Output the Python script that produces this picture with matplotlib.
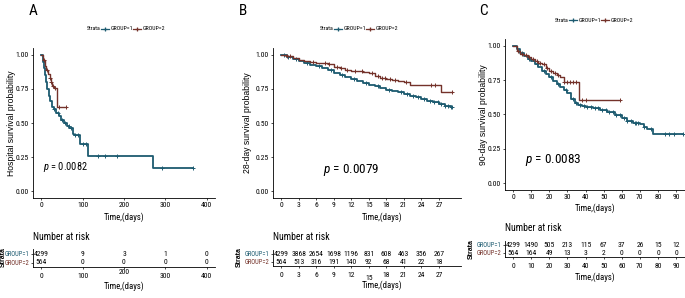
import numpy as np
import matplotlib
matplotlib.use('Agg')
import matplotlib.pyplot as plt
from matplotlib import font_manager as fm
from matplotlib.lines import Line2D
from matplotlib.transforms import ScaledTranslation

# narrow font: take whatever condensed face is installed
names = {f.name for f in fm.fontManager.ttflist}
narrow = next((c for c in ['Liberation Sans Narrow', 'Roboto Condensed', 'Arial Narrow']
               if c in names), None)
if narrow:
    plt.rcParams['font.family'] = [narrow, 'DejaVu Sans']
    it_font = narrow + ':italic'
elif any(f.name == 'DejaVu Sans' and f.stretch == 'condensed' for f in fm.fontManager.ttflist):
    plt.rcParams['font.family'] = ['DejaVu Sans']
    plt.rcParams['font.stretch'] = 'condensed'
    it_font = 'DejaVu Sans:italic:condensed'
else:
    plt.rcParams['font.family'] = ['Liberation Sans', 'DejaVu Sans']
    it_font = 'Liberation Sans:italic'
plt.rcParams['mathtext.fontset'] = 'custom'
plt.rcParams['mathtext.it'] = it_font

TEAL = '#1d5b70'
BROWN = '#74322a'

# ---- panel A: hospital survival
a_t1 = [0, 3, 6, 8, 11, 14, 18, 22, 26, 30, 36, 42, 48, 55, 62, 68, 76, 80, 94, 114, 270, 367]
a_s1 = [1.0, 0.95, 0.9, 0.855, 0.8, 0.75, 0.70, 0.66, 0.62, 0.60, 0.575, 0.55, 0.525, 0.50, 0.48, 0.46, 0.42, 0.412, 0.345, 0.257, 0.171, 0.171]
a_c1 = [30, 40, 50, 58, 66, 72, 82, 88, 100, 108, 138, 154, 182, 293, 367]
a_t2 = [0, 4, 8, 12, 16, 20, 24, 27, 30, 38, 60]
a_s2 = [1.0, 0.96, 0.92, 0.89, 0.86, 0.83, 0.80, 0.775, 0.755, 0.62, 0.62]
a_c2 = [6, 14, 20, 24, 28, 34, 44, 60]
a_ticks = [0, 100, 200, 300, 400]
a_risk1 = [4299, 9, 3, 1, 0]
a_risk2 = [564, 0, 0, 0, 0]

# ---- panel B: 28-day survival
b_t1 = [0, 1, 2, 3, 4, 5, 6, 7, 8, 9, 10, 11, 12, 13, 14, 15, 16, 17, 18, 19, 20,
        21, 22, 23, 24, 25, 26, 27, 28, 29, 29.3]
b_s1 = [1.0, 0.985, 0.968, 0.952, 0.94, 0.928, 0.915, 0.90, 0.888, 0.865, 0.852, 0.838,
        0.824, 0.81, 0.795, 0.781, 0.77, 0.757, 0.745, 0.733, 0.724, 0.713, 0.70, 0.69,
        0.678, 0.665, 0.652, 0.64, 0.628, 0.62, 0.62]
b_c1 = [0.5, 1.2, 2.5, 4.5, 6.5, 8.5, 10.5, 12.5, 14.5, 16.5, 18.5, 20.5, 21.5, 22.5,
        23.5, 24.5, 25.5, 26.2, 26.8, 27.4, 28, 28.5, 29, 29.3]
b_t2 = [0, 1, 2, 3, 4, 5, 6, 7, 8, 9, 10, 11, 12, 13, 14, 15, 16, 17, 18, 19, 20, 21,
        22, 27.3, 29.3]
b_s2 = [1.0, 0.995, 0.975, 0.965, 0.957, 0.95, 0.942, 0.937, 0.93, 0.91, 0.90, 0.892,
        0.885, 0.88, 0.872, 0.866, 0.845, 0.83, 0.825, 0.818, 0.806, 0.80, 0.78, 0.73, 0.73]
b_c2 = [1.0, 1.5, 5.5, 7.5, 8.2, 9.5, 10.3, 11.2, 12.6, 13.8, 15.6, 16.5, 17.2, 17.8,
        18.6, 19.4, 21.4, 25.6, 26.3, 29.2]
b_ticks = [0, 3, 6, 9, 12, 15, 18, 21, 24, 27]
b_risk1 = [4299, 3868, 2654, 1698, 1196, 831, 608, 463, 356, 267]
b_risk2 = [564, 513, 316, 191, 140, 92, 68, 41, 22, 18]

# ---- panel C: 90-day survival
c_t1 = [0, 2, 4, 6, 8, 10, 12, 14, 16, 18, 20, 22, 24, 26, 28, 30, 32, 34, 36, 38, 40,
        44, 48, 52, 56, 60, 63, 66, 70, 72, 74, 77, 93.5]
c_s1 = [1.0, 0.975, 0.95, 0.925, 0.905, 0.89, 0.87, 0.845, 0.82, 0.795, 0.77, 0.745,
        0.72, 0.70, 0.68, 0.655, 0.615, 0.585, 0.57, 0.562, 0.555, 0.545, 0.535, 0.52,
        0.495, 0.475, 0.45, 0.44, 0.43, 0.41, 0.395, 0.355, 0.355]
c_c1 = [5, 9, 13, 17, 21, 25, 29, 33, 35, 37, 39, 41, 43, 45, 47, 49, 51, 53, 55, 57,
        59, 61, 63, 65, 67, 68, 69, 72, 76, 84, 86, 89, 93.5]
c_t2 = [0, 2, 4, 6, 8, 10, 12, 14, 16, 18, 20, 22, 24, 26, 28, 36.5, 59]
c_s2 = [1.0, 0.96, 0.94, 0.93, 0.92, 0.905, 0.89, 0.875, 0.865, 0.84, 0.815, 0.80,
        0.79, 0.77, 0.735, 0.608, 0.608]
c_c2 = [3, 5, 7, 9, 11, 13, 15, 17, 19, 21, 23, 25, 28, 30, 31.5, 33, 34.5, 38, 40, 59]
c_ticks = [0, 10, 20, 30, 40, 50, 60, 70, 80, 90]
c_risk1 = [4299, 1490, 505, 213, 115, 67, 37, 26, 15, 12]
c_risk2 = [564, 164, 49, 13, 3, 2, 0, 0, 0, 0]

W, H = 685, 298
fig = plt.figure(figsize=(W / 100, H / 100), dpi=100)

TICK = 5.5
NUM = 5.5


def box(l, t, r, b):
    return fig.add_axes([l / W, 1 - b / H, (r - l) / W, (b - t) / H])


def ftext(x, y, s, **kw):
    fig.text(x / W, 1 - y / H, s, **kw)


def step_at(t, s, c):
    idx = np.searchsorted(t, c, side='right') - 1
    return np.asarray(s)[idx]


def style(ax):
    for side in ['top', 'right']:
        ax.spines[side].set_visible(False)
    for side in ['left', 'bottom']:
        ax.spines[side].set_linewidth(0.6)
    ax.tick_params(length=1.6, width=0.5, pad=1.2, labelsize=TICK)


def km_panel(l, t, r, b, xlim, ticks, curves, pval, ppos, psize):
    ax = box(l, t, r, b)
    style(ax)
    for tt, ss, cc, col, lw in curves:
        ax.step(tt, ss, where='post', color=col, lw=lw)
        ax.plot(cc, step_at(tt, ss, cc), ls='none', marker='+', ms=3.2, mew=0.7, color=col)
    ax.set_xlim(*xlim)
    ax.set_ylim(-0.05, 1.05)
    ax.set_xticks(ticks)
    ax.set_yticks([0, 0.25, 0.5, 0.75, 1.0])
    ax.set_yticklabels(['0.00', '0.25', '0.50', '0.75', '1.00'])
    ftext(ppos[0], ppos[1], '$\\it{p}$ = ' + pval, fontsize=psize, va='center')
    return ax


def risk_table(l, t, r, b, xlim, ticks, r1, r2, shift=None):
    ax = box(l, t, r, b)
    style(ax)
    ax.set_xlim(*xlim)
    ax.set_ylim(2.5, 0.5)
    ax.set_xticks(ticks)
    ax.set_yticks([1, 2])
    ax.set_yticklabels(['GROUP=1', 'GROUP=2'])
    for lbl, col in zip(ax.get_yticklabels(), [TEAL, BROWN]):
        lbl.set_color(col)
    ax.tick_params(axis='y', labelsize=4.7, pad=0.8)
    ax.tick_params(axis='x', pad=3)
    for x, n1, n2 in zip(ticks, r1, r2):
        ax.text(x, 1, str(n1), ha='center', va='center', fontsize=NUM)
        ax.text(x, 2, str(n2), ha='center', va='center', fontsize=NUM)
    if shift is not None:
        i, dy = shift
        lbl = ax.get_xticklabels()[i]
        lbl.set_transform(lbl.get_transform() + ScaledTranslation(0, dy / 72, fig.dpi_scale_trans))
    return ax


def legend(x0, y):
    ftext(x0, y, 'Strata', fontsize=4.2, va='center')
    for dx, col, name in [(14, TEAL, 'GROUP=1'), (46, BROWN, 'GROUP=2')]:
        fig.add_artist(Line2D([(x0 + dx) / W, (x0 + dx + 8) / W], [1 - y / H, 1 - y / H],
                              color=col, lw=0.9))
        fig.add_artist(Line2D([(x0 + dx + 4) / W], [1 - y / H], color=col,
                              marker='+', ms=3.5, mew=0.9))
        ftext(x0 + dx + 10, y, name, fontsize=4.2, va='center')


def ylab(x, y, s):
    ftext(x, y, s, fontsize=6.2, family='Liberation Sans', rotation=90,
          ha='center', va='center')


def strata(x, y):
    ftext(x, y, 'Strata', fontsize=5, family='Liberation Sans', weight='bold',
          rotation=90, ha='center', va='center')


# panel A
km_panel(33, 48, 215, 198, (-20, 420), a_ticks,
         [(a_t1, a_s1, a_c1, TEAL, 1.3), (a_t2, a_s2, a_c2, BROWN, 1.0)],
         '0.0082', (43, 167), 7.5)
risk_table(33, 249, 215, 267, (-20, 420), a_ticks, a_risk1, a_risk2, shift=(2, 3))
ftext(29, 11, 'A', fontsize=11, va='center')
legend(87, 29)
ylab(12, 123, 'Hospital survival probability')
ftext(124, 217, 'Time,(days)', fontsize=6.3, ha='center', va='center')
ftext(33, 237, 'Number at risk', fontsize=7, va='center')
ftext(124, 286, 'Time,(days)', fontsize=6.3, ha='center', va='center')
strata(3, 257)

# panel B
km_panel(272.5, 48, 461, 198, (-1.47, 30.77), b_ticks,
         [(b_t1, b_s1, b_c1, TEAL, 1.3), (b_t2, b_s2, b_c2, BROWN, 1.0)],
         '0.0079', (323, 170), 9.5)
risk_table(272.5, 249.5, 461, 266, (-1.47, 30.77), b_ticks, b_risk1, b_risk2, shift=(5, -2.2))
ftext(239, 11, 'B', fontsize=11, va='center')
legend(320, 29)
ylab(247, 123, '28-day survival probability')
ftext(382, 217, 'Time,(days)', fontsize=6.3, ha='center', va='center')
ftext(273, 237, 'Number at risk', fontsize=7, va='center')
ftext(382, 285, 'Time,(days)', fontsize=6.3, ha='center', va='center')
strata(239, 257)

# panel C
km_panel(504.5, 39, 692, 190, (-4.7, 98.7), c_ticks,
         [(c_t1, c_s1, c_c1, TEAL, 1.3), (c_t2, c_s2, c_c2, BROWN, 1.0)],
         '0.0083', (525, 160), 9.5)
risk_table(504.5, 241, 692, 256.5, (-4.7, 98.7), c_ticks, c_risk1, c_risk2)
ftext(479, 11, 'C', fontsize=11, va='center')
legend(555, 20)
ylab(484, 115, '90-day survival probability')
ftext(595, 208, 'Time,(days)', fontsize=6.3, ha='center', va='center')
ftext(505, 228, 'Number at risk', fontsize=7, va='center')
ftext(595, 277, 'Time,(days)', fontsize=6.3, ha='center', va='center')
strata(471, 249)

fig.savefig('out.png', dpi=100)
